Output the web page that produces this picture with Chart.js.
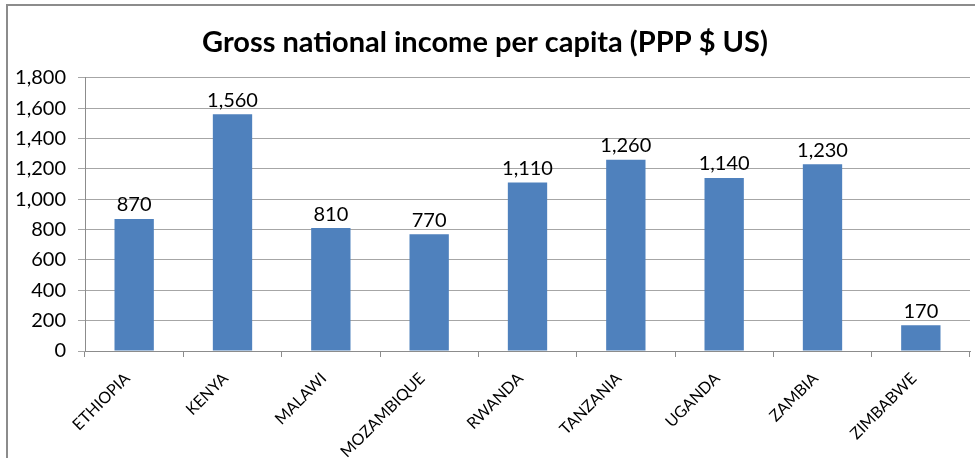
<!DOCTYPE html>
<html lang="en">
<head>
    <meta charset="UTF-8">
    <title>Gross national income per capita</title>
    <script src="https://cdn.jsdelivr.net/npm/chart.js"></script>
    <style>
        html, body { margin: 0; padding: 0; background: #fff; }
        #wrap { width: 975px; height: 458px; position: relative; }
    </style>
</head>
<body>
    <div id="wrap">
        <canvas id="gniChart"></canvas>
    </div>

    <script>
        // Data
        const countries = ['ETHIOPIA', 'KENYA', 'MALAWI', 'MOZAMBIQUE', 'RWANDA', 'TANZANIA', 'UGANDA', 'ZAMBIA', 'ZIMBABWE'];
        const gniValues = [870, 1560, 810, 770, 1110, 1260, 1140, 1230, 170];
        const yTicks = [0, 200, 400, 600, 800, 1000, 1200, 1400, 1600, 1800];

        const fmt = v => v.toLocaleString('en-US');

        // frame of the chart (only top and left visible in the picture)
        const framePlugin = {
            id: 'frame',
            beforeDraw(chart) {
                const ctx = chart.ctx;
                ctx.save();
                ctx.strokeStyle = '#8c8c8c';
                ctx.lineWidth = 2;
                ctx.beginPath();
                ctx.moveTo(975, 5);
                ctx.lineTo(7, 5);
                ctx.lineTo(7, 458);
                ctx.stroke();
                ctx.restore();
            }
        };

        // value labels above each bar
        const valueLabels = {
            id: 'valueLabels',
            afterDatasetsDraw(chart) {
                const ctx = chart.ctx;
                const meta = chart.getDatasetMeta(0);
                ctx.save();
                ctx.font = '20px Lato';
                ctx.fillStyle = '#000';
                ctx.textAlign = 'center';
                ctx.textBaseline = 'bottom';
                meta.data.forEach((bar, i) => {
                    ctx.fillText(fmt(gniValues[i]), bar.x, bar.y - 4);
                });
                ctx.restore();
            }
        };

        const ctx = document.getElementById('gniChart').getContext('2d');
        new Chart(ctx, {
            type: 'bar',
            data: {
                labels: countries,
                datasets: [{
                    data: gniValues,
                    backgroundColor: '#4F81BD',
                    categoryPercentage: 1,
                    barPercentage: 0.4
                }]
            },
            options: {
                responsive: true,
                maintainAspectRatio: false,
                animation: false,
                layout: { padding: { left: 0, right: 5, top: 0, bottom: 0 } },
                plugins: {
                    legend: { display: false },
                    tooltip: { enabled: false },
                    title: {
                        display: true,
                        text: 'Gross national income per capita (PPP $ US)',
                        color: '#000',
                        font: { family: 'Lato', size: 29, weight: 'bold' },
                        padding: { top: 25, bottom: 18 }
                    }
                },
                scales: {
                    y: {
                        min: 0,
                        max: 1800,
                        afterBuildTicks: axis => { axis.ticks = yTicks.map(v => ({ value: v })); },
                        afterFit: axis => { axis.width = 85; },
                        ticks: {
                            color: '#000',
                            font: { family: 'Lato', size: 20 },
                            padding: 12,
                            callback: v => fmt(v)
                        },
                        grid: { color: '#a6a6a6', lineWidth: 1, tickLength: 7 },
                        border: { color: '#8c8c8c', width: 1 }
                    },
                    x: {
                        afterFit: axis => { axis.height = 107; },
                        ticks: {
                            color: '#000',
                            font: { family: 'Lato', size: 16 },
                            minRotation: 45,
                            maxRotation: 45,
                            autoSkip: false,
                            padding: 12,
                            labelOffset: -7
                        },
                        grid: { offset: true, drawOnChartArea: false, tickLength: 6, color: '#8c8c8c' },
                        border: { color: '#8c8c8c', width: 1 }
                    }
                }
            },
            plugins: [framePlugin, valueLabels]
        });
    </script>
</body>
</html>
